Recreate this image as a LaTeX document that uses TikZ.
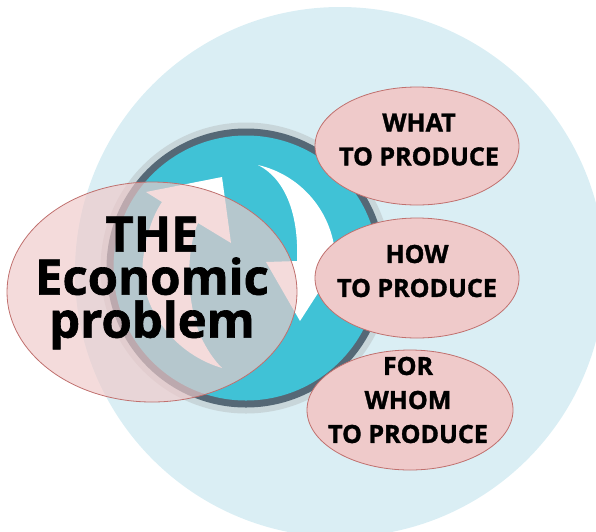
\documentclass[tikz,border=0pt]{standalone}
\usepackage{fontspec}
\setmainfont{Open Sans}
\newfontfamily\heavyfont[BoldFeatures={FakeBold=1.3}]{Open Sans}
\usetikzlibrary{shapes.geometric}
\definecolor{skyblue}{RGB}{218,238,244}
\definecolor{discteal}{RGB}{64,194,214}
\definecolor{ringdark}{RGB}{85,104,118}
\definecolor{ringlight}{RGB}{200,214,218}
\definecolor{pinkfill}{RGB}{239,202,202}
\definecolor{pinkline}{RGB}{192,112,110}

\begin{document}
\begin{tikzpicture}[x=1pt,y=-1pt,
	bubble/.style={ellipse,draw=pinkline,fill=pinkfill,line width=0.8pt,inner sep=0pt},
	question/.style={align=center,inner sep=0pt,font=\heavyfont\bfseries\fontsize{25}{34}\selectfont},
	headline/.style={align=center,inner sep=0pt,font=\heavyfont\bfseries\fontsize{49}{43}\selectfont}]

\useasboundingbox (0,0) rectangle (596,531);

% background disc and ring
\fill[skyblue] (340,272) circle (265);
\fill[ringlight] (246,268) circle (145.5);
\fill[ringdark] (246,268) circle (139.5);
\fill[discteal] (246,268) circle (132.5);

% the two curved arrows
\fill[white] (258,165) arc[start angle=-77, end angle=-2, radius=100]
	-- (340,259) -- (300,321) -- (266,262) -- (297,261)
	.. controls (299,212) and (284,178) .. cycle;
\fill[white] (222,368) .. controls (168,352) and (138,300) .. (143,260)
	.. controls (146,235) and (153,215) .. (162,202)
	-- (146,192) -- (222,177) -- (231,243) -- (198,223)
	.. controls (186,250) and (186,300) .. (200,335)
	.. controls (207,350) and (214,360) .. cycle;

% the three questions
\node[bubble,minimum width=204pt,minimum height=118pt] (what) at (417,146) {};
\node[question] (what text) at (419,139.5) {WHAT\\TO PRODUCE};
\node[bubble,minimum width=204pt,minimum height=120pt] (how) at (417,278) {};
\node[question] (how text) at (417,271) {HOW\\TO PRODUCE};
\node[bubble,minimum width=206pt,minimum height=120pt] (whom) at (410,410) {};
\node[question] (whom text) at (408,400) {FOR\\WHOM\\TO PRODUCE};

% the main lens
\node[bubble,fill opacity=0.67,minimum width=290pt,minimum height=220pt] (problem) at (152,292) {};
\node[headline] (problem text) at (152,283) {THE\\Economic\\problem};

%\pagebreak

\end{tikzpicture}
\end{document}
